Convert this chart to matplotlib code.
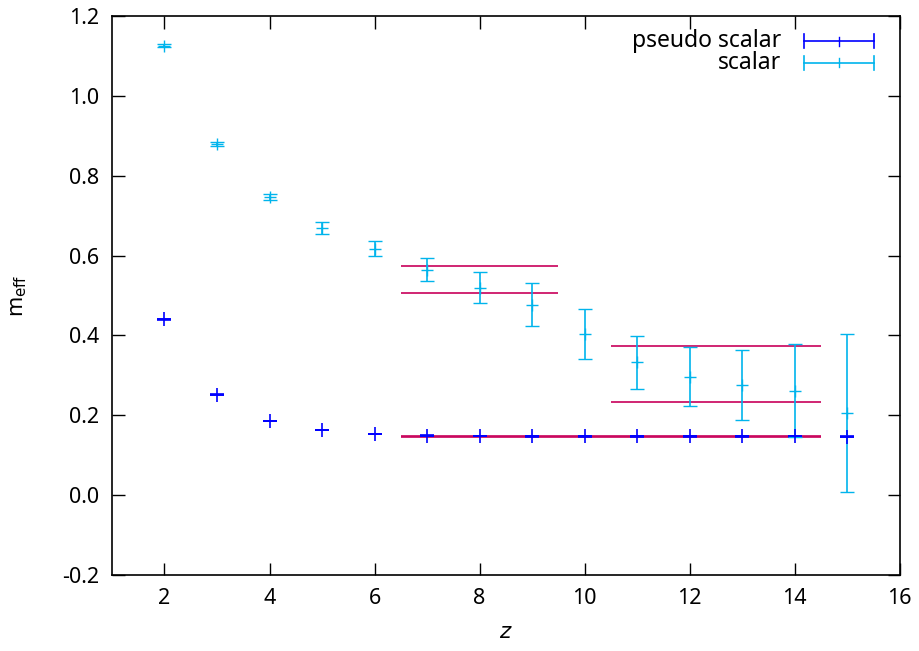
import numpy as np
import matplotlib
matplotlib.use("Agg")
import matplotlib.pyplot as plt

# effective mass plateau data
z = [2, 3, 4, 5, 6, 7, 8, 9, 10, 11, 12, 13, 14, 15]

ps_mass = [0.440, 0.252, 0.186, 0.163, 0.153, 0.149, 0.148, 0.147, 0.147, 0.147, 0.147, 0.147, 0.147, 0.146]
ps_err = [0.001, 0.001, 0.001, 0.001, 0.001, 0.001, 0.001, 0.001, 0.001, 0.001, 0.001, 0.001, 0.001, 0.001]

sc_mass = [1.126, 0.880, 0.746, 0.670, 0.617, 0.565, 0.520, 0.477, 0.403, 0.333, 0.297, 0.276, 0.262, 0.206]
sc_err = [0.003, 0.005, 0.008, 0.015, 0.019, 0.028, 0.039, 0.054, 0.063, 0.066, 0.073, 0.088, 0.116, 0.198]

# fit bands: (z_start, z_end, lower, upper)
bands = [
    (6.5, 14.5, 0.146, 0.149),
    (6.5, 9.5, 0.506, 0.573),
    (10.5, 14.5, 0.233, 0.373),
]

PS_COLOR = '#0000ff'
SC_COLOR = '#00b4ec'
BAND_COLOR = '#c8005a'

plt.rcParams['font.family'] = ['Noto Sans', 'DejaVu Sans']
plt.rcParams['font.size'] = 15.5

fig = plt.figure(figsize=(9.2, 6.51), dpi=100)
ax = fig.add_axes([0.1217, 0.1167, 0.8563, 0.8587])

ax.errorbar(z, ps_mass, yerr=ps_err, fmt='+', color=PS_COLOR, ms=10, mew=1.2,
            elinewidth=1.0, capsize=5, capthick=1.5, zorder=3)
ax.errorbar(z, sc_mass, yerr=sc_err, fmt='+', color=SC_COLOR, ms=9, mew=1.0,
            elinewidth=1.2, capsize=5, capthick=1.2, zorder=3)

for x0, x1, lo, hi in bands:
    ax.hlines([lo, hi], x0, x1, color=BAND_COLOR, lw=1.2, zorder=2)

ax.set_xlim(1, 16)
ax.set_ylim(-0.2, 1.2)
ax.set_xticks(range(2, 17, 2))
ax.set_yticks(np.arange(-0.2, 1.21, 0.2))
ax.set_yticklabels(['-0.2', '0.0', '0.2', '0.4', '0.6', '0.8', '1.0', '1.2'])
ax.tick_params(direction='in', length=9, width=1, top=True, right=True, pad=9)
for sp in ax.spines.values():
    sp.set_linewidth(1.2)

ax.set_xlabel('$z$', labelpad=10)
ax.set_ylabel(r'm$_{\mathrm{eff}}$', labelpad=24)

# gnuplot style key: right-aligned text, errorbar sample to the right
tr = ax.transAxes
key = [('pseudo scalar', PS_COLOR, 0.955), ('scalar', SC_COLOR, 0.916)]
for label, color, yk in key:
    ax.text(0.85, yk, label, transform=tr, ha='right', va='center', fontsize=16.5)
    ax.plot([0.878, 0.967], [yk, yk], color=color, lw=1.2, transform=tr)
    ax.plot([0.878, 0.878], [yk - 0.012, yk + 0.012], color=color, lw=1.2, transform=tr)
    ax.plot([0.967, 0.967], [yk - 0.012, yk + 0.012], color=color, lw=1.2, transform=tr)
    ax.plot([0.9225, 0.9225], [yk - 0.008, yk + 0.008], color=color, lw=1.0, transform=tr)

fig.savefig('out.png', dpi=100)
